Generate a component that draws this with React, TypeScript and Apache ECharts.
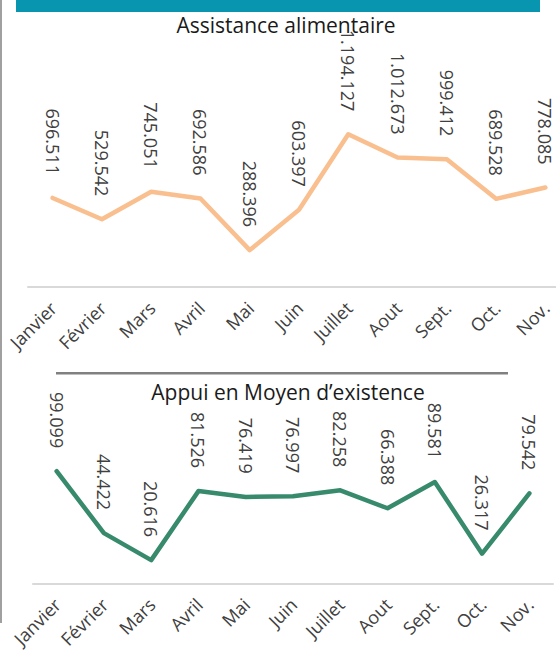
import React, { useEffect, useRef } from "react";
import * as echarts from "echarts";

const months = ["Janvier", "Février", "Mars", "Avril", "Mai", "Juin", "Juillet", "Aout", "Sept.", "Oct.", "Nov."];
const alimentaire = [696511, 529542, 745051, 692586, 288396, 603397, 1194127, 1012673, 999412, 689528, 778085];
const moyenExistence = [99099, 44422, 20616, 81526, 76419, 76997, 82258, 66388, 89581, 26317, 79542];
const titleTop = "Assistance alimentaire";
const titleBottom = "Appui en Moyen d\u2019existence";

const FONT = "'Open Sans', 'Noto Sans', sans-serif";

const fmt = (v: number) => String(v).replace(/\B(?=(\d{3})+(?!\d))/g, ".");

export default function App() {
  const ref = useRef<HTMLDivElement>(null);
  useEffect(() => {
    if (!ref.current) return;
    const chart = echarts.init(ref.current, null, { renderer: "svg" });
    const labelStyle = {
      show: true,
      position: "top" as const,
      rotate: -90,
      align: "right" as const,
      verticalAlign: "middle" as const,
      distance: 22,
      fontSize: 18,
      color: "#404040",
      fontFamily: FONT,
      formatter: (p: any) => fmt(p.value),
    };
    const xAxisBase = {
      type: "category" as const,
      data: months,
      boundaryGap: true,
      axisTick: { show: false },
      axisLine: { show: true, lineStyle: { color: "#d9d9d9", width: 2 } },
      axisLabel: {
        rotate: 45,
        interval: 0,
        fontSize: 18,
        lineHeight: 12,
        color: "#404040",
        fontFamily: FONT,
        margin: 10,
        align: "right",
        verticalAlign: "top",
        padding: [0, 5, 0, 0],
      },
      splitLine: { show: false },
    };
    chart.setOption({
      animation: false,
      backgroundColor: "#ffffff",
      grid: [
        { left: 28, top: 108, width: 542, height: 179, containLabel: false, outerBoundsMode: "none" },
        { left: 33, top: 447.5, width: 520, height: 136, containLabel: false, outerBoundsMode: "none" },
      ],
      xAxis: [
        { ...xAxisBase, gridIndex: 0 },
        { ...xAxisBase, gridIndex: 1 },
      ],
      yAxis: [
        { type: "value", gridIndex: 0, min: 0, max: 1400000, show: false, splitLine: { show: false } },
        { type: "value", gridIndex: 1, min: 0, max: 120000, show: false, splitLine: { show: false } },
      ],
      series: [
        {
          type: "line",
          xAxisIndex: 0,
          yAxisIndex: 0,
          data: alimentaire,
          symbol: "circle",
          symbolSize: 2,
          showSymbol: true,
          lineStyle: { color: "#f9bf8f", width: 4.5, cap: "round", join: "round" },
          itemStyle: { color: "#f9bf8f" },
          label: labelStyle,
        },
        {
          type: "line",
          xAxisIndex: 1,
          yAxisIndex: 1,
          data: moyenExistence,
          symbol: "circle",
          symbolSize: 2,
          showSymbol: true,
          lineStyle: { color: "#378a6c", width: 4.5, cap: "round", join: "round" },
          itemStyle: { color: "#378a6c" },
          label: labelStyle,
        },
      ],
      graphic: [
        { type: "rect", shape: { x: 16, y: 0, width: 524, height: 12 }, style: { fill: "#0795b0" } },
        { type: "rect", shape: { x: 0, y: 0, width: 2, height: 623 }, style: { fill: "#a0a0a0" } },
        { type: "rect", shape: { x: 56, y: 372, width: 452, height: 2.5 }, style: { fill: "#808080" } },
        {
          type: "text",
          x: 286,
          y: 25,
          style: { text: titleTop, align: "center", verticalAlign: "middle", fontSize: 21, fontFamily: FONT, fill: "#1a1a1a" },
        },
        {
          type: "text",
          x: 288,
          y: 392,
          style: { text: titleBottom, align: "center", verticalAlign: "middle", fontSize: 21, fontFamily: FONT, fill: "#1a1a1a" },
        },
      ],
    });
    return () => chart.dispose();
  }, []);
  return (
    <div
      ref={ref}
      style={{ position: "fixed", left: 0, top: 0, width: 556, height: 659, background: "#fff" }}
    />
  );
}
